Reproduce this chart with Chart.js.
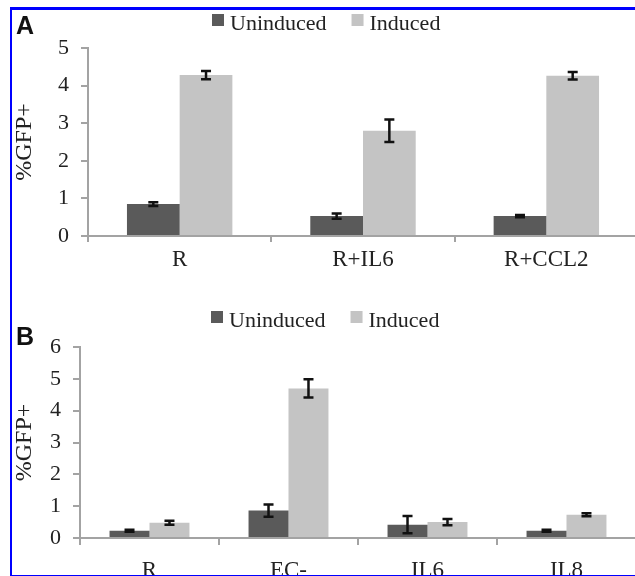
<!DOCTYPE html>
<html>
<head>
<meta charset="utf-8">
<script src="https://cdn.jsdelivr.net/npm/chart.js@4.4.1/dist/chart.umd.min.js"></script>
<style>
  html, body { margin: 0; padding: 0; background: #fff; }
  body { width: 635px; height: 576px; position: relative; overflow: hidden; }
  .frame {
    position: absolute; left: 10px; top: 7px; width: 700px; height: 565px;
    border-top: 3px solid #0000ff; border-left: 2px solid #0000ff; border-bottom: 2px solid #0000ff;
    pointer-events: none; z-index: 5;
  }
  .panel { position: absolute; left: 0; width: 640px; }
  .letter {
    position: absolute; font-family: "Liberation Sans", Arial, sans-serif;
    font-weight: bold; font-size: 25px; line-height: 25px; color: #111; z-index: 6;
  }
</style>
</head>
<body>
<div class="frame"></div>
<div class="letter" style="left:16px; top:13px;">A</div>
<div class="letter" style="left:16px; top:324px;">B</div>
<div class="panel" style="top:0; height:285px;"><canvas id="chartA"></canvas></div>
<div class="panel" style="top:285px; height:291px;"><canvas id="chartB"></canvas></div>
<script>
// --- Data ---

const seriesNames = ['Uninduced', 'Induced'];

const catsA = ['R', 'R+IL6', 'R+CCL2'];
const uninducedA = [0.85, 0.53, 0.53];
const uninducedErrA = [0.05, 0.07, 0.03];
const inducedA = [4.28, 2.80, 4.26];
const inducedErrA = [0.11, 0.30, 0.10];
const ticksA = [0, 1, 2, 3, 4, 5];

const catsB = ['R', 'EC-', 'IL6', 'IL8'];
const uninducedB = [0.23, 0.86, 0.42, 0.23];
const uninducedErrB = [0.03, 0.19, 0.27, 0.03];
const inducedB = [0.48, 4.70, 0.50, 0.73];
const inducedErrB = [0.06, 0.29, 0.10, 0.05];
const ticksB = [0, 1, 2, 3, 4, 5, 6];

const DARK = '#5a5a5a';
const LIGHT = '#c4c4c4';
const AXIS = '#a3a3a3';
const SERIF = '"Liberation Serif", "Times New Roman", serif';

// --- Error bars drawn at each bar through the y scale ---

const errorBars = {
    id: 'errorBars',
    afterDatasetsDraw(chart) {
        const ctx = chart.ctx;
        const y = chart.scales.y;
        ctx.save();
        ctx.strokeStyle = '#111';
        ctx.lineWidth = 2.5;
        chart.data.datasets.forEach((ds, di) => {
            const meta = chart.getDatasetMeta(di);
            meta.data.forEach((bar, i) => {
                const v = ds.data[i];
                const e = ds.errors[i];
                const top = y.getPixelForValue(v + e);
                const bot = y.getPixelForValue(v - e);
                const half = 5;
                ctx.beginPath();
                ctx.moveTo(bar.x, top);
                ctx.lineTo(bar.x, bot);
                ctx.moveTo(bar.x - half, top);
                ctx.lineTo(bar.x + half, top);
                ctx.moveTo(bar.x - half, bot);
                ctx.lineTo(bar.x + half, bot);
                ctx.stroke();
            });
        });
        ctx.restore();
    }
};

// --- Legend: small squares with serif text ---

const boxLegend = {
    id: 'boxLegend',
    afterDraw(chart, args, opts) {
        const ctx = chart.ctx;
        ctx.save();
        ctx.font = '22px ' + SERIF;
        ctx.textBaseline = 'alphabetic';
        let x = opts.x;
        chart.data.datasets.forEach((ds) => {
            ctx.fillStyle = ds.backgroundColor;
            ctx.fillRect(x, opts.y - 16, 12, 12);
            ctx.fillStyle = '#222';
            ctx.fillText(ds.label, x + 18, opts.y);
            x += 18 + ctx.measureText(ds.label).width + 25;
        });
        ctx.restore();
    }
};

function makeChart(id, cats, un, unErr, ind, indErr, ticks, cfg) {
    const ctx = document.getElementById(id).getContext('2d');
    return new Chart(ctx, {
        type: 'bar',
        data: {
            labels: cats,
            datasets: [
                { label: seriesNames[0], data: un, errors: unErr, backgroundColor: DARK,
                  categoryPercentage: 0.575, barPercentage: 1.0 },
                { label: seriesNames[1], data: ind, errors: indErr, backgroundColor: LIGHT,
                  categoryPercentage: 0.575, barPercentage: 1.0 }
            ]
        },
        options: {
            responsive: true,
            maintainAspectRatio: false,
            animation: false,
            layout: { padding: cfg.padding },
            scales: {
                x: {
                    afterFit: (s) => { s.height = cfg.xHeight; },
                    border: { color: AXIS, width: 2 },
                    grid: { offset: true, drawOnChartArea: false, color: AXIS, lineWidth: 2, tickLength: cfg.tickX },
                    ticks: { color: '#222', font: { family: SERIF, size: 23 }, padding: cfg.labelPad,
                             maxRotation: 0, autoSkip: false }
                },
                y: {
                    min: 0,
                    max: ticks[ticks.length - 1],
                    afterFit: (s) => { s.width = cfg.yWidth; },
                    afterBuildTicks: (s) => { s.ticks = ticks.map(v => ({ value: v })); },
                    border: { color: AXIS, width: 2 },
                    grid: { drawOnChartArea: false, color: AXIS, lineWidth: 2, tickLength: 7 },
                    ticks: { color: '#222', font: { family: SERIF, size: 22 }, padding: 12 },
                    title: { display: true, text: '%GFP+', color: '#222', padding: 0,
                             font: { family: SERIF, size: 24 } }
                }
            },
            plugins: {
                legend: { display: false },
                tooltip: { enabled: false },
                boxLegend: cfg.legend
            }
        },
        plugins: [errorBars, boxLegend]
    });
}

makeChart('chartA', catsA, uninducedA, uninducedErrA, inducedA, inducedErrA, ticksA, {
    padding: { left: 10, right: 2, top: 48, bottom: 0 },
    yWidth: 78, xHeight: 49, tickX: 6, labelPad: 4,
    legend: { x: 212, y: 30 }
});

makeChart('chartB', catsB, uninducedB, uninducedErrB, inducedB, inducedErrB, ticksB, {
    padding: { left: 10, right: 4, top: 62, bottom: 0 },
    yWidth: 70, xHeight: 38, tickX: 7, labelPad: 12,
    legend: { x: 211, y: 42 }
});
</script>
</body>
</html>
